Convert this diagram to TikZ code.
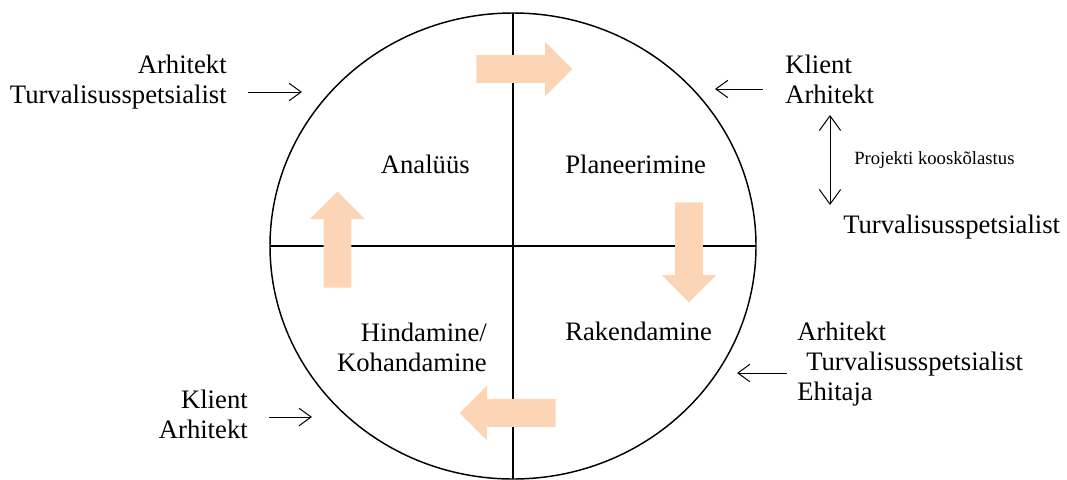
\documentclass[tikz,border=0pt]{standalone}
\usepackage{fontspec}
\setmainfont{Liberation Serif}
\usepackage{xcolor}
\usetikzlibrary{shapes.geometric, shapes.arrows, arrows.meta, positioning}
\definecolor{peach}{RGB}{251,213,181}
\tikzset{
    ring/.style={
        ellipse,
        draw=black,
        line width=1.1pt,
        minimum width=364.5pt,
        minimum height=349.5pt,
        inner sep=0pt,
        outer sep=0pt
    },
    axis/.style={
        draw=black,
        line width=0.9pt
    },
    phase/.style={
        font=\fontsize{20}{22.5}\selectfont,
        inner sep=0pt
    },
    role/.style={
        font=\fontsize{20}{22.5}\selectfont,
        inner sep=0pt
    },
    note/.style={
        font=\fontsize{14}{16}\selectfont,
        inner sep=0pt
    },
    flow/.style={
        single arrow,
        fill=peach,
        draw=none,
        anchor=tail,
        minimum height=72pt,
        minimum width=40.5pt,
        single arrow head extend=10.125pt,
        inner xsep=0pt,
        inner ysep=10.125pt
    },
    link/.style={
        draw=black,
        line width=0.75pt,
        -{Straight Barb[length=9pt,width=13pt]}
    },
    twoway/.style={
        draw=black,
        line width=0.75pt,
        {Straight Barb[length=11pt,width=16pt]}-{Straight Barb[length=11pt,width=16pt]}
    }
}

\begin{document}
\begin{tikzpicture}[x=0.75pt, y=-0.75pt]

\useasboundingbox (0,0) rectangle (1067,479);

\node[ring] (wheel) at (513,246) {};
\draw[axis] (wheel.north) -- (wheel.south);
\draw[axis] (wheel.west) -- (wheel.east);

\node[flow] (toplan) at (476,69) {};
\node[flow, rotate=-90, minimum height=75pt] (torak) at (689,202) {};
\node[flow, rotate=180] (tohin) at (556,413) {};
\node[flow, rotate=90] (toana) at (337.5,288) {};

\node[phase, anchor=base east] (ana) at (470,173) {Analüüs};
\node[phase, anchor=base west] (plan) at (565,173) {Planeerimine};
\node[phase, anchor=base west] (rak) at (565,340) {Rakendamine};
\node[phase, anchor=base east, align=right] (hin) at (487,371) {Hindamine/\\Kohandamine};

\node[role, anchor=base east, align=right] (rolea) at (227,103) {Arhitekt\\Turvalisusspetsialist};
\node[role, anchor=base west, align=left] (roleb) at (785,103) {Klient\\Arhitekt};
\node[role, anchor=base west] (rolec) at (843,233) {Turvalisusspetsialist};
\node[role, anchor=base west, align=left] (roled) at (797,400) {Arhitekt\\\hspace*{6.75pt}Turvalisusspetsialist\\Ehitaja};
\node[role, anchor=base east, align=right] (rolee) at (248,438) {Klient\\Arhitekt};
\node[note, anchor=west] (sync) at (854,160) {Projekti kooskõlastus};

\coordinate (taila) at (248,92);
\coordinate (heada) at (302,92);
\coordinate (tailb) at (763,89);
\coordinate (headb) at (715,89);
\coordinate (taild) at (787,373);
\coordinate (headd) at (737,373);
\coordinate (taile) at (269,417);
\coordinate (heade) at (312,417);
\coordinate (synctop) at (830,115);
\coordinate (syncbot) at (830,205);

\draw[link] (taila) -- (heada);
\draw[link] (tailb) -- (headb);
\draw[link] (taild) -- (headd);
\draw[link] (taile) -- (heade);
\draw[twoway] (synctop) -- (syncbot);

\end{tikzpicture}
\end{document}
